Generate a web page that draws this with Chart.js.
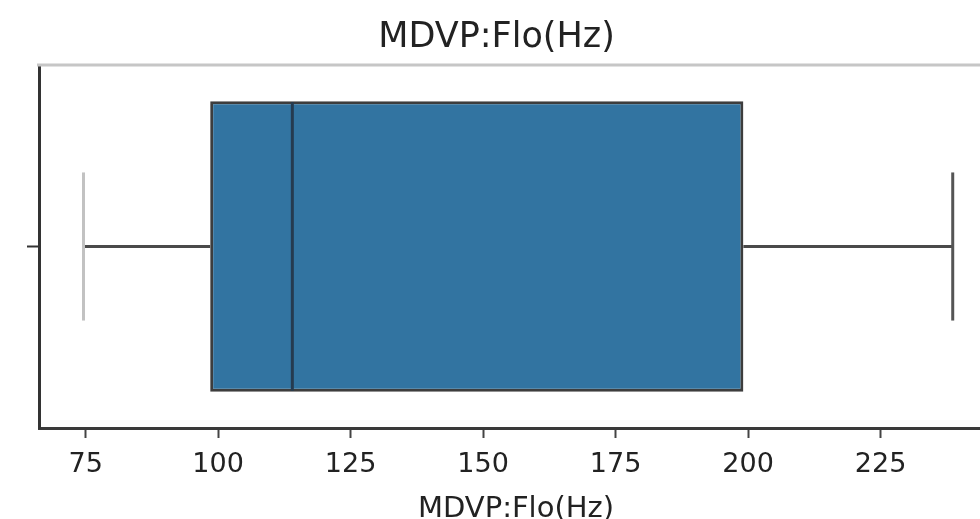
<!DOCTYPE html>
<html>
<head>
<meta charset="utf-8">
<script src="https://cdn.jsdelivr.net/npm/chart.js@4"></script>
<style>
  html, body { margin: 0; padding: 0; background: #fff; }
  #wrapper { width: 980px; height: 519px; overflow: hidden; position: relative; }
  canvas { display: block; }
</style>
</head>
<body>
<div id="wrapper"><canvas id="canvas"></canvas></div>
<script>
// Boxplot de MDVP:Flo(Hz) (caja flotante + bigotes dibujados con las escalas)
var categories = [''];
var whiskerLow = [74.6];
var q1 = [98.5];
var median = [114.0];
var q3 = [199.1];
var whiskerHigh = [238.6];
var xTicks = [75, 100, 125, 150, 175, 200, 225];

var ctx = document.getElementById('canvas');
ctx.width = 1032;
ctx.height = 540;

var FONT = 'DejaVu Sans';

// bigotes, topes y mediana
var boxExtras = {
  id: 'boxExtras',
  afterDatasetsDraw: function(chart) {
    var c = chart.ctx;
    var x = chart.scales.x, y = chart.scales.y;
    var meta = chart.getDatasetMeta(0);
    c.save();
    meta.data.forEach(function(bar, i) {
      var cy = y.getPixelForValue(i);
      var half = bar.height / 2;
      var cap = bar.height * 0.255;
      var xl = x.getPixelForValue(whiskerLow[i]);
      var x1 = x.getPixelForValue(q1[i]);
      var x3 = x.getPixelForValue(q3[i]);
      var xh = x.getPixelForValue(whiskerHigh[i]);
      var xm = x.getPixelForValue(median[i]);

      c.lineWidth = 3;
      c.strokeStyle = '#4a4a4a';
      c.beginPath();
      c.moveTo(xl, cy); c.lineTo(x1, cy);
      c.moveTo(x3, cy); c.lineTo(xh, cy);
      c.stroke();

      c.strokeStyle = '#c2c2c2';
      c.beginPath();
      c.moveTo(xl, cy - cap); c.lineTo(xl, cy + cap);
      c.stroke();

      c.strokeStyle = '#555555';
      c.beginPath();
      c.moveTo(xh, cy - cap); c.lineTo(xh, cy + cap);
      c.stroke();

      c.strokeStyle = '#253b50';
      c.beginPath();
      c.moveTo(xm, cy - half + 1); c.lineTo(xm, cy + half - 1);
      c.stroke();
    });

    // borde superior claro
    var a = chart.chartArea;
    c.strokeStyle = '#c6c6c6';
    c.lineWidth = 3;
    c.beginPath();
    c.moveTo(a.left - 2, a.top);
    c.lineTo(a.right, a.top);
    c.stroke();
    c.restore();
  }
};

var chart = new Chart(ctx, {
  type: 'bar',
  data: {
    labels: categories,
    datasets: [{
      label: 'MDVP:Flo(Hz)',
      data: q1.map(function(v, i) { return [v, q3[i]]; }),
      backgroundColor: '#3274a1',
      borderColor: '#3d3d3d',
      borderWidth: 3,
      borderSkipped: false,
      categoryPercentage: 1,
      barPercentage: 0.8
    }]
  },
  options: {
    indexAxis: 'y',
    responsive: false,
    animation: { duration: 0 },
    layout: { padding: { left: 0, right: 39, top: 0, bottom: 13 } },
    plugins: {
      legend: { display: false },
      tooltip: { enabled: false },
      title: {
        display: true,
        text: 'MDVP:Flo(Hz)',
        color: '#222',
        font: { family: FONT, size: 35, weight: 'normal', lineHeight: 1.2 },
        padding: { top: 17, bottom: 6 }
      }
    },
    scales: {
      x: {
        type: 'linear',
        min: 66.2,
        max: 246.2,
        afterBuildTicks: function(scale) {
          scale.ticks = xTicks.map(function(v) { return { value: v }; });
        },
        afterFit: function(scale) { scale.height = 99; },
        grid: {
          drawOnChartArea: false,
          tickLength: 10,
          tickWidth: 2,
          tickColor: '#444'
        },
        border: { color: '#3a3a3a', width: 3 },
        ticks: {
          color: '#222',
          padding: 11,
          maxRotation: 0,
          font: { family: FONT, size: 27 }
        },
        title: {
          display: true,
          text: 'MDVP:Flo(Hz)',
          color: '#222',
          padding: 0,
          font: { family: FONT, size: 29 }
        }
      },
      y: {
        type: 'category',
        afterFit: function(scale) { scale.width = 39; },
        grid: {
          drawOnChartArea: false,
          offset: false,
          tickLength: 12,
          tickWidth: 2,
          tickColor: '#333'
        },
        border: { color: '#333', width: 3 },
        ticks: { display: true, font: { family: FONT, size: 20 } }
      }
    }
  },
  plugins: [boxExtras]
});
</script>
</body>
</html>
